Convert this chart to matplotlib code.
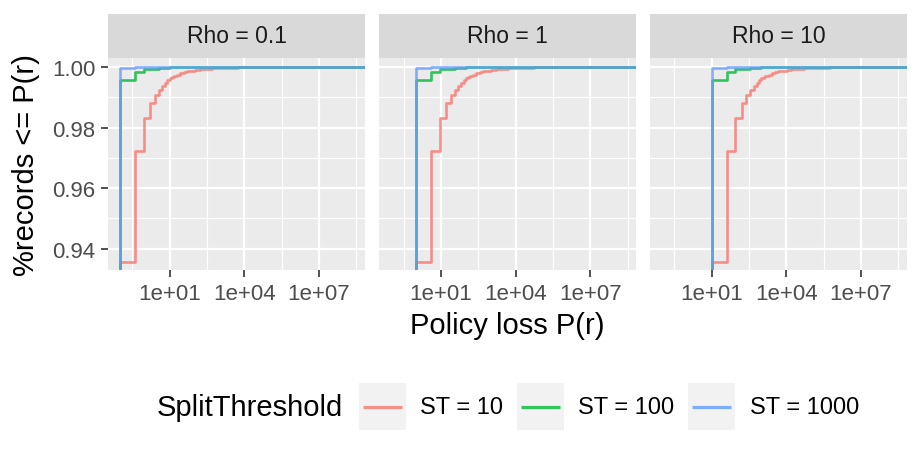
import numpy as np
import matplotlib
matplotlib.use("Agg")
import matplotlib.pyplot as plt
from matplotlib.patches import Rectangle
from matplotlib.lines import Line2D

plt.rcParams['font.family'] = ['Liberation Sans', 'DejaVu Sans']

# ---------------- data ----------------
rhos = [0.1, 1, 10]
facet_labels = ["Rho = 0.1", "Rho = 1", "Rho = 10"]
series_labels = ["ST = 10", "ST = 100", "ST = 1000"]
series_colors = ["#F8766D", "#00BA38", "#619CFF"]
legend_title = "SplitThreshold"
x_title = "Policy loss P(r)"
y_title = "%records <= P(r)"

# policy loss, as multiples of rho, and cumulative share of records (ECDF)
st10_mult = [1, 4, 9, 16, 25, 36, 49, 64, 81, 100, 121, 144, 196, 256, 361, 484, 676,
             1024, 1600, 2500, 4900, 10000, 22500, 56000, 2.4e7]
st10_cdf = [0.9356, 0.9722, 0.9833, 0.9880, 0.9909, 0.9925, 0.9937, 0.9948, 0.9956, 0.9963,
            0.9967, 0.9970, 0.9975, 0.9979, 0.9983, 0.9986, 0.9988, 0.99905, 0.9993, 0.9995,
            0.9996, 0.9997, 0.9998, 0.9999, 1.0]
st100_mult = [1, 4, 9, 16, 36, 100, 300]
st100_cdf = [0.9958, 0.9983, 0.9992, 0.9995, 0.9998, 0.99995, 1.0]
st1000_mult = [1, 4, 16]
st1000_cdf = [0.99957, 0.9999, 1.0]

series_mult = [st10_mult, st100_mult, st1000_mult]
series_cdf = [st10_cdf, st100_cdf, st1000_cdf]

x_major = [1e1, 1e4, 1e7]
x_major_labels = ["1e+01", "1e+04", "1e+07"]
x_minor = [10 ** -0.5, 10 ** 2.5, 10 ** 5.5, 10 ** 8.5]
y_major = [0.94, 0.96, 0.98, 1.00]
y_major_labels = ["0.94", "0.96", "0.98", "1.00"]
y_minor = [0.95, 0.97, 0.99]

xlim = (10 ** -1.48, 10 ** 8.85)
ylim = (0.9329, 1.0031)

# ---------------- layout ----------------
W, H = 921, 460
fig = plt.figure(figsize=(W / 100, H / 100), dpi=100)


def fx(px):
    return px / W


def fy(py):
    return 1 - py / H


panel_lefts = [108, 379.3, 650]
panel_w = 257
panel_top, panel_bot = 58.7, 271
strip_top = 15

tick_color = "#333333"
label_color = "#4D4D4D"
alpha = 0.8
lw = 1.9

for i, (rho, flab) in enumerate(zip(rhos, facet_labels)):
    left = panel_lefts[i]
    ax = fig.add_axes([fx(left), fy(panel_bot), panel_w / W, (panel_bot - panel_top) / H])
    ax.set_facecolor("#EBEBEB")
    for s in ax.spines.values():
        s.set_visible(False)
    ax.set_xscale("log")
    ax.set_xlim(*xlim)
    ax.set_ylim(*ylim)
    ax.set_xticks(x_major)
    ax.set_xticklabels(x_major_labels)
    ax.set_xticks(x_minor, minor=True)
    ax.set_yticks(y_major)
    ax.set_yticks(y_minor, minor=True)
    ax.xaxis.set_minor_formatter(matplotlib.ticker.NullFormatter())
    if i == 0:
        ax.set_yticklabels(y_major_labels)
        ax.tick_params(axis="y", which="major", length=5, width=1.2, color=tick_color,
                       labelsize=16, labelcolor=label_color, pad=4)
    else:
        ax.tick_params(axis="y", which="major", length=0, labelleft=False)
    ax.tick_params(axis="x", which="major", length=5, width=1.2, color=tick_color,
                   labelsize=16, labelcolor=label_color, pad=4)
    ax.tick_params(which="minor", length=0)
    ax.grid(which="major", color="white", linewidth=1.6)
    ax.grid(which="minor", color="white", linewidth=0.8)
    ax.set_axisbelow(True)

    for mult, cdf, col in zip(series_mult, series_cdf, series_colors):
        xs = [1e-12] + [rho * m for m in mult] + [1e14]
        ys = [0.0] + list(cdf) + [1.0]
        ax.step(xs, ys, where="post", color=col, alpha=alpha, linewidth=lw, zorder=3)

    # strip
    sax = fig.add_axes([fx(left), fy(panel_top), panel_w / W, (panel_top - strip_top) / H])
    sax.set_facecolor("#D9D9D9")
    sax.set_xticks([])
    sax.set_yticks([])
    for s in sax.spines.values():
        s.set_visible(False)
    sax.text(0.5, 0.5, flab, ha="center", va="center", fontsize=16.5, color="#1A1A1A",
             transform=sax.transAxes)

# axis titles
fig.text(fx((panel_lefts[0] + panel_lefts[-1] + panel_w) / 2), fy(326), x_title,
         ha="center", va="center", fontsize=21, color="black")
fig.text(fx(26), fy((panel_top + panel_bot) / 2), y_title, rotation=90,
         ha="center", va="center", fontsize=21, color="black")

# legend (manual, ggplot style)
leg_cy = 407.7
fig.text(fx(157), fy(leg_cy), legend_title, ha="left", va="center", fontsize=21, color="black")
key_lefts = [359, 517.3, 688]
label_lefts = [420, 578.3, 750]
key_w, key_h = 46.5, 46.7
for kl, ll, col, lab in zip(key_lefts, label_lefts, series_colors, series_labels):
    fig.add_artist(Rectangle((fx(kl), fy(leg_cy + key_h / 2)), key_w / W, key_h / H,
                             transform=fig.transFigure, facecolor="#F2F2F2", edgecolor="none"))
    fig.add_artist(Line2D([fx(kl + 4), fx(kl + key_w - 4)], [fy(leg_cy), fy(leg_cy)],
                          transform=fig.transFigure, color=col, alpha=alpha, linewidth=lw + 0.4,
                          solid_capstyle="butt"))
    fig.text(fx(ll), fy(leg_cy), lab, ha="left", va="center", fontsize=17, color="black")

fig.savefig("out.png", dpi=100)
